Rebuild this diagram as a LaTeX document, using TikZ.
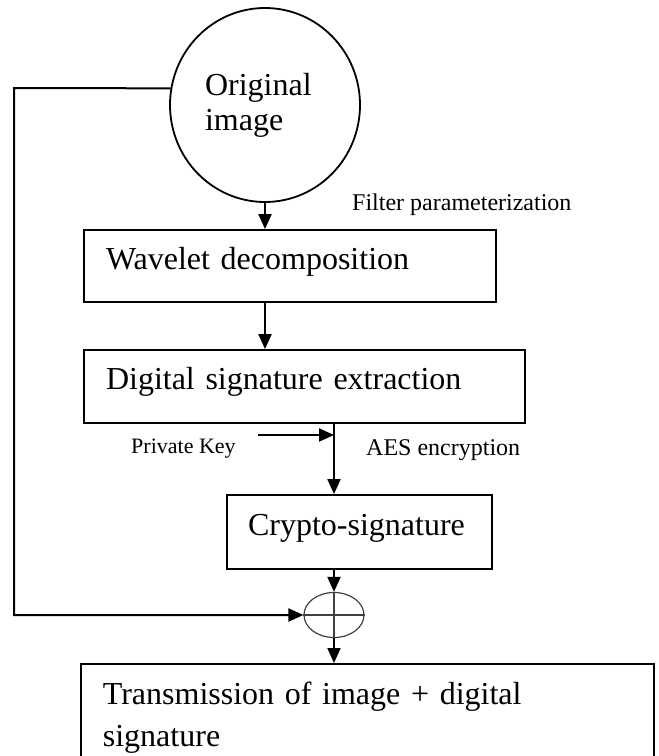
\documentclass[tikz,border=0pt]{standalone}
\usepackage{fontspec}
\setmainfont{Liberation Serif}
\usepackage{tikz}
\usetikzlibrary{shapes}
\usetikzlibrary{arrows.meta}
\usetikzlibrary{positioning}
\tikzstyle{box}=[rectangle,draw=black,line width=1.8pt,inner xsep=22pt,inner ysep=0pt,align=left,font=\fontsize{32}{35}\selectfont]
\tikzstyle{stage}=[box,text height=22pt,text depth=16pt]
\tikzstyle{source}=[ellipse,draw=black,line width=1.8pt,minimum width=190pt,minimum height=194pt,text width=120pt,align=left,font=\fontsize{32}{35}\selectfont]
\tikzstyle{xorop}=[ellipse,draw=black!75,line width=1.2pt,inner sep=0pt,minimum width=60pt,minimum height=45pt]
\tikzstyle{note}=[anchor=base west,inner sep=0pt,font=\fontsize{24}{28}\selectfont]
\tikzstyle{arrow}=[-{Triangle[length=15pt,width=13pt]},line width=2pt]

\begin{document}
\begin{tikzpicture}[x=1pt,y=-1pt]
    \useasboundingbox (0,0) rectangle (659,756);
    \node[source] at (265,105) (original) {Original\\image};
    \node[stage,text width=368pt,minimum height=72pt] at (290,266) (wavelet) {Wavelet decomposition};
    \node[stage,text width=397pt,minimum height=73pt] at (304.5,386.5) (signature) {Digital signature extraction};
    \node[stage,text width=223pt,minimum height=74pt,inner xsep=21pt] at (359.5,532) (crypto) {Crypto-signature};
    \node[xorop] at (334,615) (xor) {};
    \node[box,text width=529pt,inner ysep=18pt,anchor=north west,font=\fontsize{32}{42}\selectfont] at (80,663) (transmission) {Transmission of image + digital\\signature};
    \node[note] at (352,210) (filter) {Filter parameterization};
    \node[note] at (366,455) (aes) {AES encryption};
    \node[note,font=\fontsize{22}{26}\selectfont] at (131,453) (privkey) {Private Key};
    \coordinate (keyin) at (258,435);
    \coordinate (fb) at (14,88);
    \draw[black!75,line width=1.2pt] (xor.west) -- (xor.east);
    \draw[black!75,line width=1.2pt] (xor.north) -- (xor.south);
    \draw[arrow] (original.south) -- (wavelet.north -| original.south);
    \draw[arrow] (wavelet.south -| original.south) -- (signature.north -| original.south);
    \draw[arrow] (signature.south -| xor.north) -- (crypto.north -| xor.north);
    \draw[arrow] (keyin) -- (keyin -| xor.north);
    \draw[arrow] (crypto.south -| xor.north) -- (xor.north);
    \draw[arrow] (original.170) -- (fb) |- (xor.west);
    \draw[arrow] (xor.south) -- (transmission.north -| xor.south);
\end{tikzpicture}
\end{document}
